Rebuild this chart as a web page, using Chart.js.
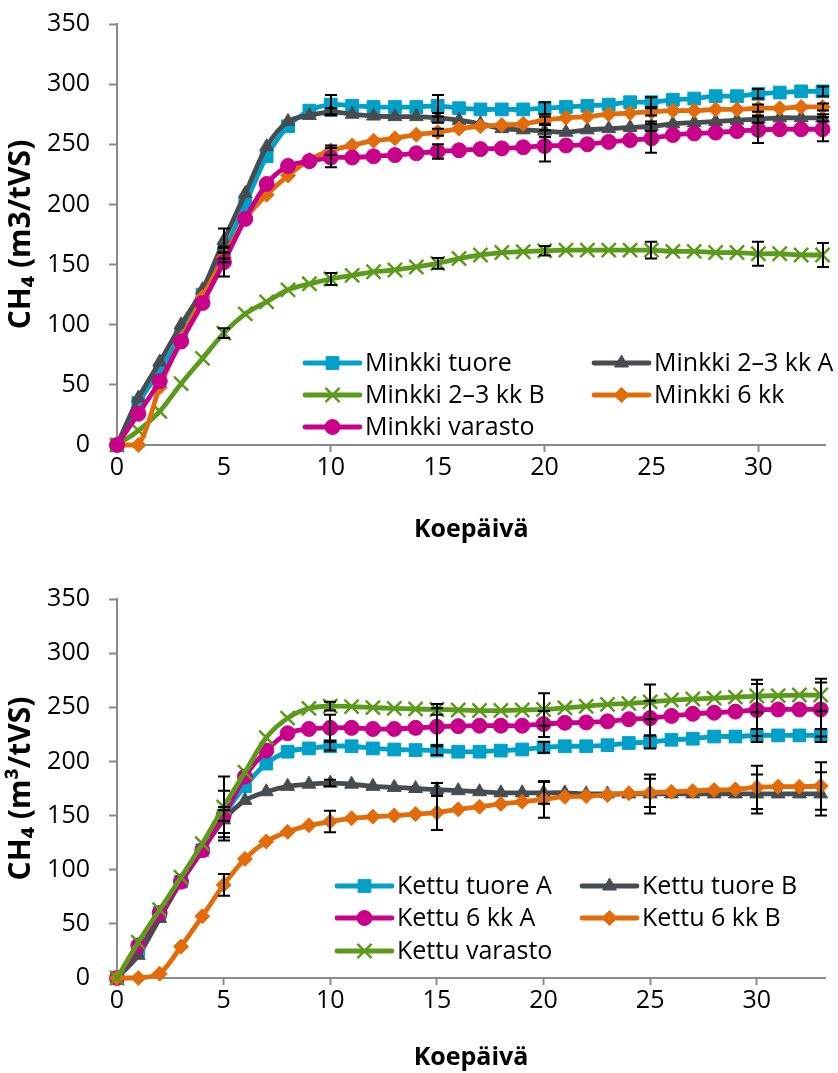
<!DOCTYPE html>
<html><head><meta charset="utf-8">
<script src="https://cdn.jsdelivr.net/npm/chart.js@4.4.1/dist/chart.umd.min.js"></script>
<style>
html,body{margin:0;padding:0;background:#fff;}
#wrap{position:relative;width:838px;height:1073px;overflow:hidden;background:#fff;}
.box{position:absolute;left:0;width:838px;}
canvas{display:block;}
</style></head><body>
<div id="wrap">
<div class="box" style="top:0;height:550px"><canvas id="c1" width="838" height="550"></canvas></div>
<div class="box" style="top:550px;height:523px"><canvas id="c2" width="838" height="523"></canvas></div>
</div>
<script>
// ---------- shared axes ----------
const days = [0,1,2,3,4,5,6,7,8,9,10,11,12,13,14,15,16,17,18,19,20,21,22,23,24,25,26,27,28,29,30,31,32,33];
const xTicks = [0,5,10,15,20,25,30];
const yTicks = [0,50,100,150,200,250,300,350];
const errDays = [5,10,15,20,25,30,33];

// ---------- top chart: Minkki ----------
const minkLabels = ['Minkki tuore','Minkki 2–3 kk A','Minkki 2–3 kk B','Minkki 6 kk','Minkki varasto'];
const minkTuore = [0,35,62,92,125,160,200,240,265,278,283,282,281,281,281,282,280,279,279,279,280,281,282,283,285,285,287,288,290,290,292,293,294,294];
const mink23A   = [0,39,69,100,129,170,209,248,269,274,277,275,273.5,273,273,272,270,267,263,262,261,260,262,263,264,265,267,268,269,270,271,272,272,272];
const mink23B   = [0,12,28,51,72,93,109,119,129,134,138,141,144,145.5,148,151,155,158,160,160.7,161.5,162,162,162,162,162,161,161,160,160,159,159,158,158];
const mink6     = [0,0,48,88,123,156,188,208,224,237,245,249,253,255,258,260,263,265,266,267,270,272,273,275,276,277,278,278,279,279,280,280,281,281];
const minkVar   = [0,26,53,86,118,152,188,217,232,236,239,239,240,241,242.5,244,245,246,246.6,247.5,248.6,249,250,252,253.5,255,257.7,259,259.7,261,262,262.5,262.5,262.5];
const minkErrTuore = [5,8,9,5,4,4,4];
const minkErr23A   = [10,3,4,5,4,3,3];
const minkErr23B   = [4,5,4.5,4,7,10,10];
const minkErr6     = [4,4,3,3,3,3,3];
const minkErrVar   = [12,8,6,13,12,11,10];

// ---------- bottom chart: Kettu ----------
const kettuLabels = ['Kettu tuore A','Kettu tuore B','Kettu 6 kk A','Kettu 6 kk B','Kettu varasto'];
const kettuTuoreA = [0,26,60,89,118,150,177,198,209,212,214,214,212,211,210.5,210,209,209,210,211,213,214,214,215,217,218,220,221,223,223,224,224,224,224];
const kettuTuoreB = [0,21,55,89,118,146,164,172,177,179,180,179,177,176,175,174,173,172,171,171,171,171,170,170,170,170,170,170,170,170,170,170,170,170];
const kettu6A     = [0,30,60,89,118,150,186,210,226,230,231,231,230,230,231,232,232.6,233,233,233,234.5,235.7,236,237,239,240,242,244,245,246,247.5,248,248,248];
const kettu6B     = [0,0,4,29,57,86,110,126,135,141,144.5,147.5,149,150,151.4,152.7,155.8,158.2,160.7,162.8,165,167.4,168,169,170.5,171,172,172.7,173.6,174.2,176,176.7,176.7,177.3];
const kettuVar    = [0,33,63,93,124,158,190,222,240,249,251,250.6,249.7,249,248.4,248,247.5,247,247,247.5,248,249.5,251,252.7,253.5,255,256.7,257.6,258.5,259.4,260.4,260.8,261.3,261.3];
const kettuErrTuoreA = [23,4,4,5,6,6,6];
const kettuErrTuoreB = [12,3,6,10,18,18,20];
const kettuErr6A     = [5,12,17,12,16,24,25];
const kettuErr6B     = [10,10,16,17,13,20,22];
const kettuErrVar    = [28,4,5,15,16,15,15];

// ---------- styling ----------
const C_BLUE='#00A0C8', C_GRAY='#474C50', C_GREEN='#5B9A1B', C_ORANGE='#E36C0A', C_MAG='#C9008A';
const FONT='"Open Sans", "Noto Sans", sans-serif';
const AXIS='#8a8a8a';

function mkDs(label, vals, color, style, radius, order) {
  return {
    label, data: days.map((d,i)=>({x:d, y:vals[i]})),
    borderColor: color, backgroundColor: color, borderWidth: 4.8,
    pointStyle: style, pointRadius: radius, pointHoverRadius: radius,
    pointBackgroundColor: color, pointBorderColor: color,
    pointBorderWidth: style === 'crossRot' ? 2.5 : 1,
    tension: 0.3, clip: false, order
  };
}

const errorBarPlugin = {
  id: 'errBars',
  afterDatasetsDraw(chart, args, opts) {
    const {ctx} = chart; const xs = chart.scales.x, ys = chart.scales.y;
    ctx.save(); ctx.strokeStyle = '#000'; ctx.lineWidth = 2;
    (opts.errors || []).forEach((errs, i) => {
      const ds = chart.data.datasets[i];
      errDays.forEach((d, k) => {
        const e = errs[k]; if (e == null) return;
        const pt = ds.data[days.indexOf(d)]; if (!pt) return;
        const px = Math.round(xs.getPixelForValue(d));
        const yt = ys.getPixelForValue(pt.y + e), yb = ys.getPixelForValue(pt.y - e);
        ctx.beginPath();
        ctx.moveTo(px, yt); ctx.lineTo(px, yb);
        ctx.moveTo(px-6, yt); ctx.lineTo(px+6, yt);
        ctx.moveTo(px-6, yb); ctx.lineTo(px+6, yb);
        ctx.stroke();
      });
    });
    ctx.restore();
  }
};

const legendPlugin = {
  id: 'boxLegend',
  afterDraw(chart, args, opts) {
    const ctx = chart.ctx;
    ctx.save();
    (opts.items || []).forEach(it => {
      const ds = chart.data.datasets[it.index];
      const len = 55, x0 = it.x, y = it.y;
      ctx.strokeStyle = ds.borderColor; ctx.lineWidth = ds.borderWidth; ctx.lineCap = 'round';
      ctx.beginPath(); ctx.moveTo(x0, y); ctx.lineTo(x0 + len, y); ctx.stroke();
      ctx.lineCap = 'butt';
      ctx.fillStyle = ds.pointBackgroundColor; ctx.strokeStyle = ds.pointBorderColor; ctx.lineWidth = ds.pointBorderWidth;
      Chart.helpers.drawPoint(ctx, {pointStyle: ds.pointStyle, radius: ds.pointRadius, rotation: 0, borderWidth: ds.pointBorderWidth}, x0 + len/2, y);
      ctx.fillStyle = '#000'; ctx.font = '25px ' + FONT; ctx.textBaseline = 'middle'; ctx.textAlign = 'left';
      ctx.fillText(ds.label, x0 + len + 5, y + 1);
    });
    ctx.restore();
  }
};

function axes(xMax, xHeight, yTitle, tenOnly) {
  return {
    x: {
      type: 'linear', min: 0, max: xMax,
      afterBuildTicks: s => { s.ticks = xTicks.map(v => ({value: v})); },
      afterFit: s => { s.height = xHeight; },
      grid: { drawOnChartArea: false, tickLength: 7, tickWidth: 2,
        tickColor: c => (!tenOnly || (c.tick && c.tick.value % 10 === 0)) ? AXIS : 'rgba(0,0,0,0)' },
      border: { color: AXIS, width: 2 },
      ticks: { font: {family: FONT, size: 25}, color: '#000', padding: 1, maxRotation: 0, autoSkip: false },
      title: { display: true, text: 'Koepäivä', color: '#000', font: {family: FONT, size: 25, weight: 'bold'}, padding: {top: 0, bottom: tenOnly ? 5 : 0} }
    },
    y: {
      type: 'linear', min: 0, max: 350,
      afterBuildTicks: s => { s.ticks = yTicks.map(v => ({value: v})); },
      afterFit: s => { s.width = 117; s.paddingTop = 0; s.paddingBottom = 0; },
      grid: { drawOnChartArea: false, tickLength: 8, tickWidth: 2, tickColor: AXIS },
      border: { color: AXIS, width: 2 },
      ticks: { font: {family: FONT, size: 25}, color: '#000', padding: 19 },
      title: { display: true, text: yTitle, color: '#000', font: {family: FONT, size: 30, weight: 'bold'}, padding: {top: 3, bottom: 0} }
    }
  };
}

function build() {
  Chart.defaults.animation = false;
  new Chart(document.getElementById('c1'), {
    type: 'line',
    data: { datasets: [
      mkDs(minkLabels[0], minkTuore, C_BLUE, 'rect', 9, 4),
      mkDs(minkLabels[1], mink23A, C_GRAY, 'triangle', 8, 3),
      mkDs(minkLabels[2], mink23B, C_GREEN, 'crossRot', 10, 2),
      mkDs(minkLabels[3], mink6, C_ORANGE, 'rectRot', 7.5, 1),
      mkDs(minkLabels[4], minkVar, C_MAG, 'circle', 7.5, 0)
    ]},
    options: {
      responsive: false, animation: false, devicePixelRatio: 1,
      layout: { padding: {top: 24, right: 0, left: 0, bottom: 0} },
      scales: axes(33.14, 105, 'CH₄ (m3/tVS)', true),
      plugins: {
        legend: {display: false}, tooltip: {enabled: false},
        errBars: { errors: [minkErrTuore, minkErr23A, minkErr23B, minkErr6, minkErrVar] },
        boxLegend: { items: [
          {index: 0, x: 305, y: 363}, {index: 1, x: 594, y: 363},
          {index: 2, x: 305, y: 395}, {index: 3, x: 594, y: 395},
          {index: 4, x: 305, y: 427}
        ]}
      }
    },
    plugins: [errorBarPlugin, legendPlugin]
  });
  new Chart(document.getElementById('c2'), {
    type: 'line',
    data: { datasets: [
      mkDs(kettuLabels[0], kettuTuoreA, C_BLUE, 'rect', 9, 4),
      mkDs(kettuLabels[1], kettuTuoreB, C_GRAY, 'triangle', 8, 3),
      mkDs(kettuLabels[2], kettu6A, C_MAG, 'circle', 7.5, 2),
      mkDs(kettuLabels[3], kettu6B, C_ORANGE, 'rectRot', 7.5, 1),
      mkDs(kettuLabels[4], kettuVar, C_GREEN, 'crossRot', 10, 0)
    ]},
    options: {
      responsive: false, animation: false, devicePixelRatio: 1,
      layout: { padding: {top: 49, right: 13, left: 0, bottom: 0} },
      scales: axes(33.2, 95, 'CH₄ (m³/tVS)', false),
      plugins: {
        legend: {display: false}, tooltip: {enabled: false},
        errBars: { errors: [kettuErrTuoreA, kettuErrTuoreB, kettuErr6A, kettuErr6B, kettuErrVar] },
        boxLegend: { items: [
          {index: 0, x: 337, y: 336}, {index: 1, x: 582, y: 336},
          {index: 2, x: 337, y: 368}, {index: 3, x: 582, y: 368},
          {index: 4, x: 337, y: 401}
        ]}
      }
    },
    plugins: [errorBarPlugin, legendPlugin]
  });
}

const fontLoads = (document.fonts && document.fonts.load) ?
  Promise.all([document.fonts.load('25px "Open Sans"'), document.fonts.load('bold 25px "Open Sans"')]).catch(()=>{}) :
  Promise.resolve();
fontLoads.then(build, build);
</script>
</body></html>
